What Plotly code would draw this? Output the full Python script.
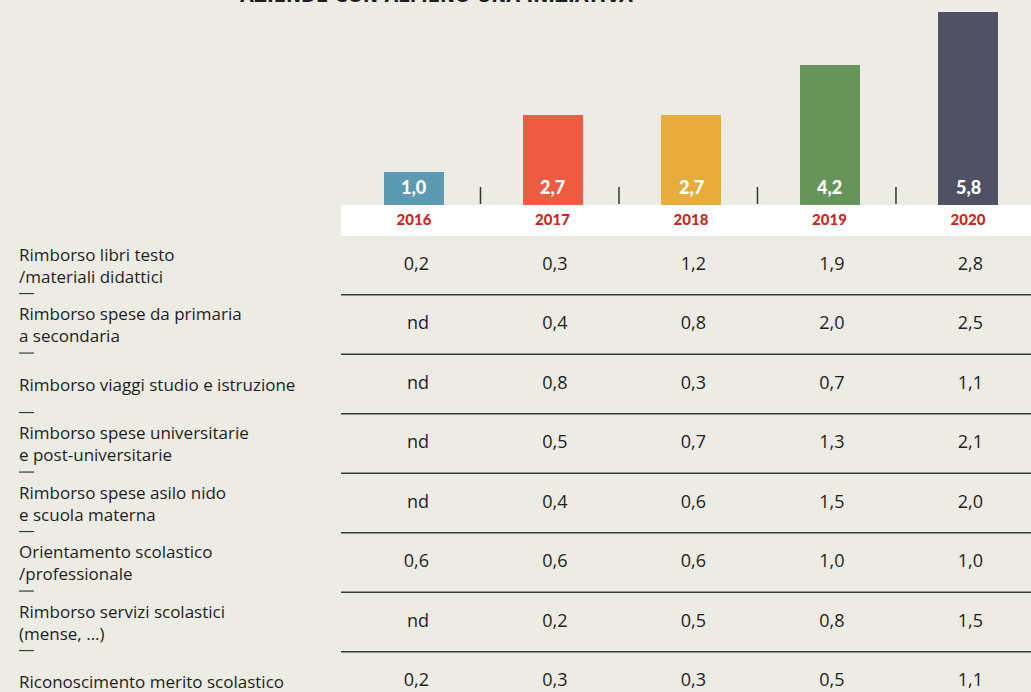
import plotly.graph_objects as go

# --- data -------------------------------------------------------------
years = ["2016", "2017", "2018", "2019", "2020"]
totals = [1.0, 2.7, 2.7, 4.2, 5.8]
bar_colors = ["#5B9AB0", "#EE5B43", "#E8AC3C", "#66945A", "#515165"]

row_labels = [
    "Rimborso libri testo<br>/materiali didattici",
    "Rimborso spese da primaria<br>a secondaria",
    "Rimborso viaggi studio e istruzione",
    "Rimborso spese universitarie<br>e post-universitarie",
    "Rimborso spese asilo nido<br>e scuola materna",
    "Orientamento scolastico<br>/professionale",
    "Rimborso servizi scolastici<br>(mense, ...)",
    "Riconoscimento merito scolastico",
]
# one list per year, in the order of row_labels (None = nd)
v2016 = [0.2, None, None, None, None, 0.6, None, 0.2]
v2017 = [0.3, 0.4, 0.8, 0.5, 0.4, 0.6, 0.2, 0.3]
v2018 = [1.2, 0.8, 0.3, 0.7, 0.6, 0.6, 0.5, 0.3]
v2019 = [1.9, 2.0, 0.7, 1.3, 1.5, 1.0, 0.8, 0.5]
v2020 = [2.8, 2.5, 1.1, 2.1, 2.0, 1.0, 1.5, 1.1]
table = [v2016, v2017, v2018, v2019, v2020]

title = "AZIENDE CON ALMENO UNA INIZIATIVA"

# --- layout constants (pixels) ----------------------------------------
W, H = 1031, 692
BASE = 205            # bar baseline
BAND = 236            # bottom of the white year band
LEFT = 341            # left edge of the table/bar area
PX_PER_UNIT = 33.28   # bar scale
COL_W = 138.5         # column spacing
FIRST_COL = 414       # centre of first column
ROW0 = 265            # centre of first table row
ROW_H = 59.5

BG = "#ECEBE4"
RED = "#C8281E"
INK = "#1E1E1E"


def fmt(v):
    return "nd" if v is None else f"{v:.1f}".replace(".", ",")


def px_x(p):
    return p / W


def px_y(p):
    return 1 - p / H


xs = list(range(len(years)))
x_lo = (LEFT - FIRST_COL) / COL_W
x_hi = (W - FIRST_COL) / COL_W

fig = go.Figure()

fig.add_trace(go.Bar(
    x=xs, y=totals, marker=dict(color=bar_colors, line=dict(width=0)),
    width=60 / COL_W, hoverinfo="skip", showlegend=False,
    xaxis="x", yaxis="y",
))

# table values, right-aligned a little right of each column centre
for j, col in enumerate(table):
    fig.add_trace(go.Scatter(
        x=[j + 15 / COL_W] * len(col), y=list(range(len(col))),
        mode="text", text=[fmt(v) for v in col],
        textposition="middle left",
        textfont=dict(family="Open Sans", size=18, color=INK),
        hoverinfo="skip", showlegend=False, xaxis="x", yaxis="y2",
    ))

shapes = []
annotations = []

# white band behind the year labels
shapes.append(dict(type="rect", xref="paper", yref="paper",
                   x0=px_x(LEFT), x1=1, y0=px_y(BAND), y1=px_y(BASE),
                   fillcolor="white", line=dict(width=0), layer="below"))

# small separators between bars
for j in range(len(years) - 1):
    shapes.append(dict(type="line", xref="x", yref="y",
                       x0=j + 0.48, x1=j + 0.48, y0=0.03, y1=18 / PX_PER_UNIT,
                       line=dict(color="#333333", width=1.5)))

# bar value labels
for j, v in enumerate(totals):
    annotations.append(dict(x=j, y=18 / PX_PER_UNIT, xref="x", yref="y",
                            text=fmt(v), showarrow=False,
                            font=dict(family="Lato", size=18, color="white",
                                      weight=900)))

# row separators and the short dashes under the labels
for i in range(len(row_labels)):
    yline = i + 0.5
    shapes.append(dict(type="line", xref="paper", yref="y2",
                       x0=px_x(LEFT), x1=1, y0=yline, y1=yline,
                       line=dict(color="#3A3A3A", width=1.5)))
    shapes.append(dict(type="line", xref="paper", yref="y2",
                       x0=px_x(19), x1=px_x(34), y0=yline - 0.02, y1=yline - 0.02,
                       line=dict(color="#3A3A3A", width=1.2)))
    annotations.append(dict(x=px_x(17), y=i, xref="paper", yref="y2",
                            xanchor="left", yanchor="middle", align="left",
                            text=row_labels[i], showarrow=False,
                            font=dict(family="Open Sans", size=17, color=INK)))

# heading, partly above the top edge
annotations.append(dict(x=px_x(238), y=1, xref="paper", yref="paper",
                        xanchor="left", yanchor="bottom", yshift=-8,
                        text=title, showarrow=False,
                        font=dict(family="DejaVu Sans", size=18, color=INK,
                                  weight="bold")))

fig.update_layout(
    width=W, height=H,
    margin=dict(l=0, r=0, t=0, b=0),
    paper_bgcolor=BG, plot_bgcolor="rgba(0,0,0,0)",
    bargap=0,
    xaxis=dict(domain=[px_x(LEFT), 1], range=[x_lo, x_hi],
               tickmode="array", tickvals=xs, ticktext=years,
               tickfont=dict(family="Lato", size=15, color=RED, weight=900),
               ticks="", showgrid=False, zeroline=False, showline=False,
               ticklabelstandoff=4, anchor="y", fixedrange=True),
    yaxis=dict(domain=[px_y(BASE), 1], range=[0, BASE / PX_PER_UNIT],
               visible=False, fixedrange=True),
    yaxis2=dict(domain=[0, px_y(BASE)],
                range=[(H - ROW0) / ROW_H, (BASE - ROW0) / ROW_H],
                visible=False, fixedrange=True),
    shapes=shapes, annotations=annotations,
)

fig.write_html("out.html")
